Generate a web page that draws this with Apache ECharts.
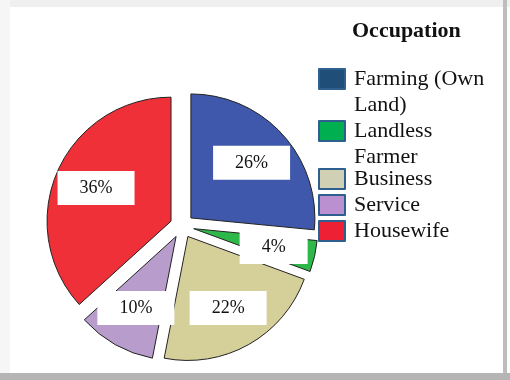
<!DOCTYPE html>
<html>
<head>
<meta charset="utf-8">
<script src="https://cdn.jsdelivr.net/npm/echarts@6/dist/echarts.min.js"></script>
<style>
  html, body { margin: 0; padding: 0; background: #fff; }
  #chart { width: 510px; height: 380px; }
</style>
</head>
<body>
<div id="chart"></div>
<script>
// 职业分布数据
const categories = ["Farming (Own Land)", "Landless Farmer", "Business", "Service", "Housewife"];
const shares = [26, 4, 22, 10, 36];
const sliceColors = ["#3f58ab", "#2fb84a", "#d5cf9a", "#b89ccb", "#ef3038"];
const legendColors = ["#1f4e79", "#00b050", "#d0d0b5", "#bb90d0", "#ee2033"];

const serif = "'Liberation Serif', 'DejaVu Serif', serif";
const chart = echarts.init(document.getElementById("chart"));

const pieData = categories.map((name, i) => ({
  name,
  value: shares[i],
  selected: true,
  itemStyle: { color: sliceColors[i] },
}));

// 图例：两行文字的条目单独放，前面加空行让图标对齐第一行
const legendItem = (i) => ({
  name: categories[i],
  itemStyle: { color: legendColors[i], borderColor: "#2f5f8f", borderWidth: 2 },
});
const legendBase = {
  left: 318,
  orient: "vertical",
  icon: "rect",
  itemWidth: 26,
  itemHeight: 20,
  itemGap: 0,
  padding: 0,
  selectedMode: false,
  textStyle: { fontFamily: serif, fontSize: 22, lineHeight: 26, color: "#111", padding: [0, 0, 0, 4] },
};

const option = {
  animation: false,
  graphic: [
    { type: "rect", shape: { x: 0, y: 0, width: 510, height: 7 }, style: { fill: "#efefef" }, silent: true },
    { type: "rect", shape: { x: 0, y: 0, width: 10, height: 380 }, style: { fill: "#f6f6f6" }, silent: true },
    { type: "rect", shape: { x: 503, y: 0, width: 4, height: 380 }, style: { fill: "#bdbdbd" }, silent: true },
    { type: "rect", shape: { x: 0, y: 373, width: 510, height: 7 }, style: { fill: "#b5b5b5" }, silent: true },
  ],
  title: {
    text: "Occupation",
    left: 352,
    top: 20,
    padding: 0,
    textStyle: { fontFamily: serif, fontSize: 22, fontWeight: "bold", color: "#111" },
  },
  legend: [
    {
      ...legendBase,
      top: 40,
      data: [legendItem(0)],
      formatter: () => "\nFarming (Own\nLand)",
    },
    {
      ...legendBase,
      top: 92,
      data: [legendItem(1)],
      formatter: () => "\nLandless\nFarmer",
    },
    {
      ...legendBase,
      top: 166,
      data: [legendItem(2), legendItem(3), legendItem(4)],
    },
  ],
  series: [
    {
      type: "pie",
      center: [182, 226],
      radius: [0, 124],
      startAngle: 90,
      selectedMode: "multiple",
      selectedOffset: 12,
      silent: true,
      label: { show: false },
      labelLine: { show: false },
      itemStyle: { borderColor: "#222", borderWidth: 1 },
      emphasis: { disabled: true },
      data: pieData,
    },
    {
      // 透明的标签层，把百分比框放在更靠外的位置
      type: "pie",
      center: [182, 226],
      radius: [0, 182],
      startAngle: 90,
      silent: true,
      z: 3,
      itemStyle: { color: "rgba(0,0,0,0)" },
      emphasis: { disabled: true },
      label: {
        show: true,
        position: "inside",
        formatter: "{c}%",
        fontFamily: serif,
        fontSize: 18,
        color: "#111",
        backgroundColor: "#fff",
        padding: [8, 22],
      },
      labelLine: { show: false },
      data: categories.map((name, i) => ({ name, value: shares[i] })),
    },
  ],
};

chart.setOption(option);
</script>
</body>
</html>
